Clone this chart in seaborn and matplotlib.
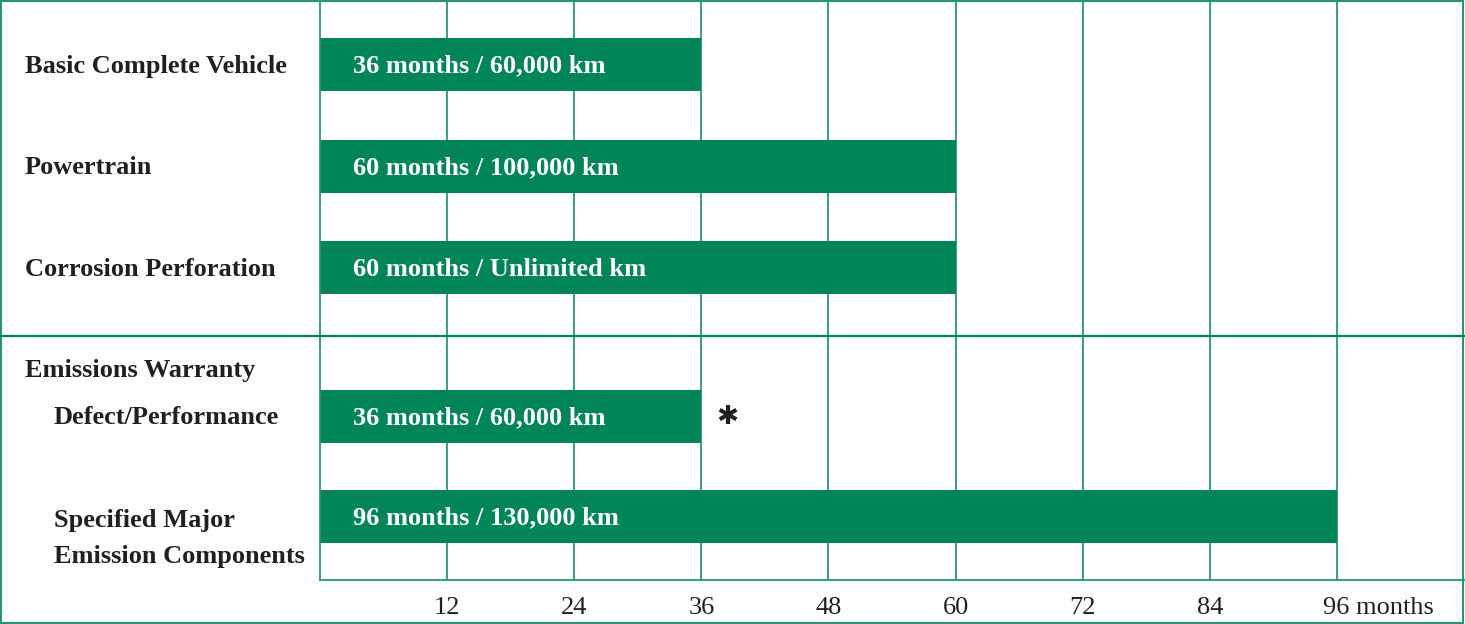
import pandas as pd
import matplotlib.pyplot as plt
import matplotlib.transforms as mtransforms
from matplotlib.lines import Line2D
from matplotlib.patches import Rectangle
import seaborn as sns

# Warranty coverage data
coverage = ['Basic Complete Vehicle', 'Powertrain', 'Corrosion Perforation',
            'Defect/Performance', 'Specified Major\nEmission Components']
months = [36, 60, 60, 36, 96]
bar_text = ['36 months / 60,000 km', '60 months / 100,000 km',
            '60 months / Unlimited km', '36 months / 60,000 km',
            '96 months / 130,000 km']
month_ticks = [12, 24, 36, 48, 60, 72, 84, 96]
tick_labels = ['12', '24', '36', '48', '60', '72', '84', '96 months']

# layout (pixel rows of the original sheet)
row_pos = [64, 166, 267, 416, 516]
W, H = 1465, 624
green = '#00845a'
line_green = '#2a9670'
ink = '#231f20'

df = pd.DataFrame({'coverage': coverage, 'months': months, 'row': row_pos})

sns.set_theme(style='white')
plt.rcParams['font.family'] = ['Liberation Serif', 'DejaVu Sans']

fig = plt.figure(figsize=(W / 100, H / 100), dpi=100)
ax = fig.add_axes([320 / W, 1 - 580 / H, (1464 - 320) / W, 580 / H])

sns.barplot(data=df, x='months', y='row', orient='h', native_scale=True,
            width=0.53, color=green, saturation=1, edgecolor='none', ax=ax)

ax.set_xlim(0, 108)
ax.set_ylim(580, 0)
ax.set_xlabel('')
ax.set_ylabel('')
ax.set_yticks([])
ax.set_xticks(month_ticks)
ax.set_xticklabels(tick_labels, fontsize=19, color=ink)
ax.tick_params(axis='x', length=0, pad=12)
ax.grid(axis='x', color=line_green, lw=1.3)
ax.set_axisbelow(True)
for side in ['top', 'right']:
    ax.spines[side].set_visible(False)
for side in ['left', 'bottom']:
    ax.spines[side].set_color(line_green)
    ax.spines[side].set_linewidth(1.3)

# shift the last label so "96" sits under its gridline
last = ax.get_xticklabels()[-1]
last.set_horizontalalignment('left')
last.set_transform(last.get_transform() +
                   mtransforms.ScaledTranslation(-14 / 100, 0, fig.dpi_scale_trans))

# text inside the bars
for y, t in zip(row_pos, bar_text):
    ax.annotate(t, xy=(0, y), xytext=(33 * 0.72, -2 * 0.72), textcoords='offset points',
                va='center', ha='left', color='white', fontsize=19, fontweight='bold')

ax.annotate('✱', xy=(36, row_pos[3]), xytext=(26 * 0.72, -1), textcoords='offset points',
            va='center', ha='center', color=ink, fontsize=19,
            family=['DejaVu Sans'])

# row labels on the left
lab = mtransforms.blended_transform_factory(fig.transFigure, ax.transData)
left_labels = [(25, 66, 'Basic Complete Vehicle'), (25, 168, 'Powertrain'),
               (25, 269, 'Corrosion Perforation'), (25, 371, 'Emissions Warranty'),
               (54, 418, 'Defect/Performance'), (54, 520, 'Specified Major'),
               (54, 557, 'Emission Components')]
for px, y, t in left_labels:
    ax.text(px / W, y, t, transform=lab, va='center', ha='left',
            fontsize=19, fontweight='bold', color=ink, clip_on=False)

# group separator and frame
ysep = 1 - 336 / H
fig.add_artist(Line2D([0, 1], [ysep, ysep], color=green, lw=1.6,
                      transform=fig.transFigure))
fig.add_artist(Rectangle((0.8 / W, 0.8 / H), 1 - 2.6 / W, 1 - 1.8 / H,
                         fill=False, edgecolor=line_green, lw=1.5,
                         transform=fig.transFigure))

fig.savefig('out.png', dpi=100)
